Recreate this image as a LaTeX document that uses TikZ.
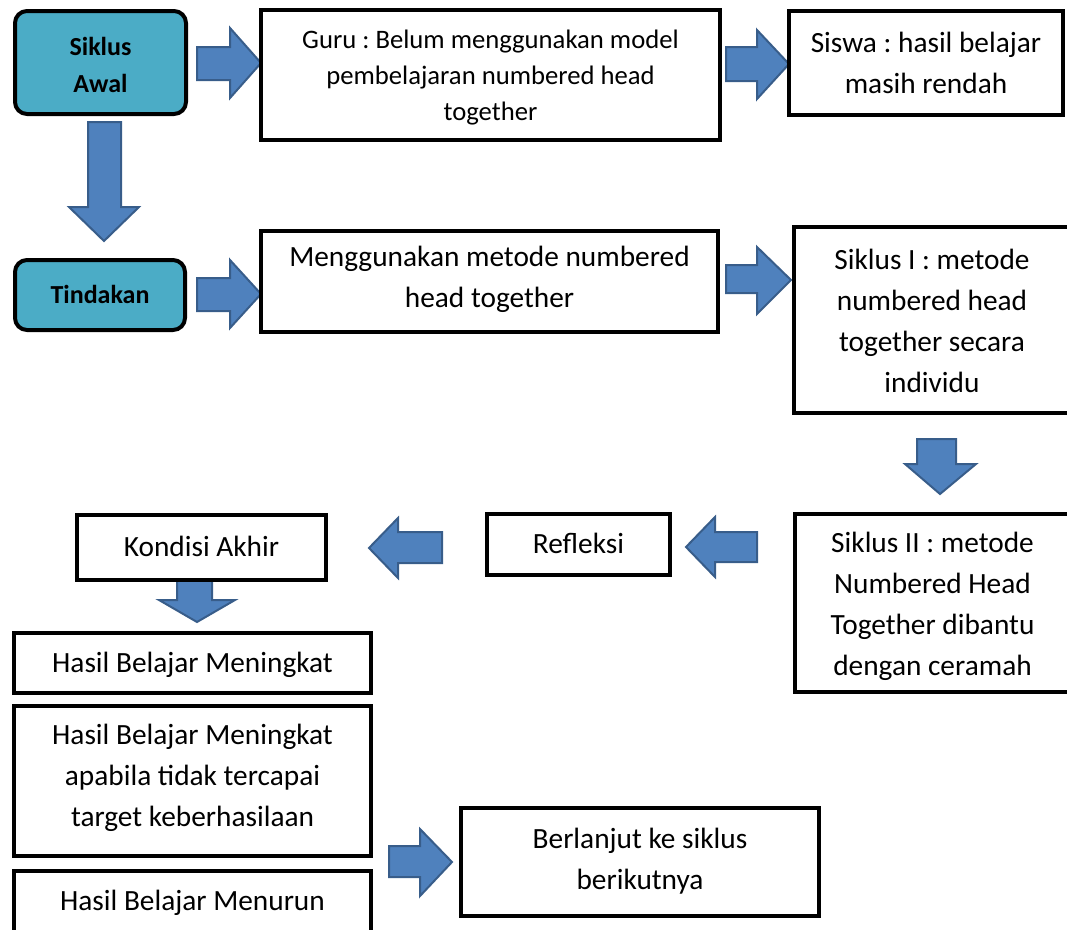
\documentclass[tikz,border=0pt]{standalone}
\usepackage{fontspec}
\setmainfont{Carlito}
\frenchspacing
\usetikzlibrary{fit}
\definecolor{tealfill}{HTML}{4BACC6}
\definecolor{arrfill}{HTML}{4F81BD}
\definecolor{arrline}{HTML}{385D8A}
\tikzset{
  box/.style={draw=black, line width=3pt, fill=white, inner sep=0pt},
  startbox/.style={box, rounded corners=9pt, fill=tealfill},
  txt/.style={inner sep=0pt, align=center, font=\fontsize{22}{30.75}\selectfont},
  smalltxt/.style={txt, font=\fontsize{20}{27}\selectfont},
  boldtxt/.style={txt, font=\bfseries\fontsize{19.5}{27.75}\selectfont},
  barrow/.style={draw=arrline, fill=arrfill, line width=1.5pt, line join=miter}
}
\begin{document}
\begin{tikzpicture}[x=0.75pt, y=-0.75pt]
\useasboundingbox (0,0) rectangle (1067,929);
\clip (0,0) rectangle (1067,929);
% block arrows
\draw[barrow] (197,47) -- (230,47) -- (230,28) -- (261,63) -- (230,98) -- (230,80) -- (197,80) -- cycle;
\draw[barrow] (88,122) -- (121,122) -- (121,207) -- (139,207) -- (104,241) -- (69,207) -- (88,207) -- cycle;
\draw[barrow] (197,278) -- (230,278) -- (230,260) -- (261,294) -- (230,328) -- (230,311) -- (197,311) -- cycle;
\draw[barrow] (726,47) -- (757,47) -- (757,30) -- (789,64) -- (757,99) -- (757,81) -- (726,81) -- cycle;
\draw[barrow] (726,265) -- (757,265) -- (757,247) -- (791,280) -- (757,314) -- (757,293) -- (726,293) -- cycle;
\draw[barrow] (917,439) -- (956,439) -- (956,464) -- (976,464) -- (940,494) -- (905,464) -- (917,464) -- cycle;
\draw[barrow] (757,532) -- (715,532) -- (715,517) -- (686,547) -- (715,577) -- (715,562) -- (757,562) -- cycle;
\draw[barrow] (442,532) -- (398,532) -- (398,518) -- (369,548) -- (398,578) -- (398,563) -- (442,563) -- cycle;
\draw[barrow] (177,580) -- (212,580) -- (212,600) -- (235,600) -- (197,622) -- (159,600) -- (177,600) -- cycle;
\draw[barrow] (389,846) -- (420,846) -- (420,829) -- (452,862) -- (420,896) -- (420,877) -- (389,877) -- cycle;
% boxes
\node[startbox, fit={(15,11) (186,114)}] (awal) {};
\node[startbox, fit={(15,260) (185,330)}] (tind) {};
\node[box, fit={(261,10) (720,140)}] (guru) {};
\node[box, fit={(789,11) (1063,115)}] (siswa) {};
\node[box, fit={(261,231) (718,332)}] (meng) {};
\node[box, fit={(794,227) (1070,413)}] (s1) {};
\node[box, fit={(795,514) (1070,692)}] (s2) {};
\node[box, fit={(487,514) (670,575)}] (refl) {};
\node[box, fit={(77,515) (326,580)}] (kond) {};
\node[box, fit={(14,633) (371,693)}] (h1) {};
\node[box, fit={(14,706) (371,856)}] (h2) {};
\node[box, fit={(14,871) (371,935)}] (h3) {};
\node[box, fit={(461,808) (819,916)}] (berl) {};
% texts
\node[boldtxt] (awalT) at (100.5,64.5) {Siklus\\Awal};
\node[boldtxt] (tindT) at (100,294) {Tindakan};
\node[smalltxt] (guruT) at (490.5,78) {Guru : Belum menggunakan model\\pembelajaran numbered head\\together};
\node[txt] (siswaT) at (926,63) {Siswa : hasil belajar\\masih rendah};
\node[txt] (mengT) at (489.5,279.5) {Menggunakan metode numbered\\head together};
\node[txt] (s1T) at (932,320.5) {Siklus I : metode\\numbered head\\together secara\\individu};
\begin{scope}
\clip (797,516) rectangle (1067,681);
\node[txt] (s2T) at (932.5,606.5) {Siklus II : metode\\Numbered Head\\Together dibantu\\dengan ceramah};
\end{scope}
\node[txt] (reflT) at (578.5,543) {Refleksi};
\node[txt] (kondT) at (201.5,546) {Kondisi Akhir};
\node[txt] (h1T) at (192.5,665) {Hasil Belajar Meningkat};
\node[txt] (h2T) at (192.5,778) {Hasil Belajar Meningkat\\apabila tidak tercapai\\target keberhasilaan};
\node[txt] (h3T) at (192.5,903) {Hasil Belajar Menurun};
\node[txt] (berlT) at (640,861) {Berlanjut ke siklus\\berikutnya};
\end{tikzpicture}
\end{document}
